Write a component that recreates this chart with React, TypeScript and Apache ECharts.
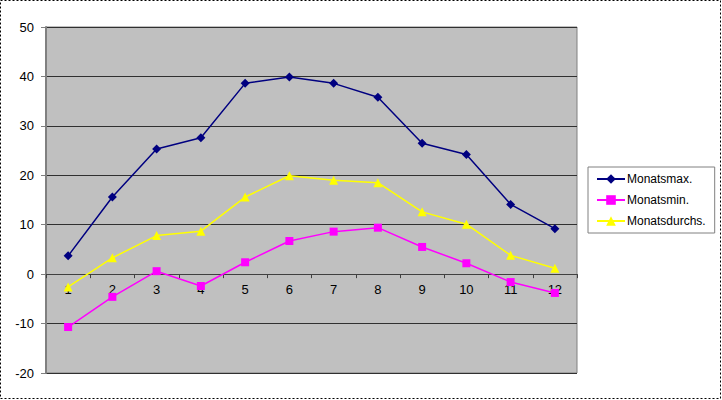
import React, { useEffect, useRef } from "react";
import * as echarts from "echarts";

const categories = ["1", "2", "3", "4", "5", "6", "7", "8", "9", "10", "11", "12"];
const monatsmax = [3.7, 15.6, 25.3, 27.6, 38.6, 39.9, 38.6, 35.8, 26.5, 24.2, 14.1, 9.2];
const monatsmin = [-10.7, -4.6, 0.6, -2.4, 2.4, 6.7, 8.6, 9.4, 5.5, 2.2, -1.6, -3.8];
const monatsdurchs = [-2.6, 3.3, 7.8, 8.7, 15.6, 19.9, 19.0, 18.5, 12.6, 10.1, 3.8, 1.2];
const yTicks = { min: -20, max: 50, interval: 10 };

export default function App() {
  const ref = useRef<HTMLDivElement>(null);
  useEffect(() => {
    if (!ref.current) return;
    const chart = echarts.init(ref.current, undefined, { renderer: "svg" });
    const font = "Arial, 'Liberation Sans', sans-serif";
    const gridTop = 27;
    const gridHeight = 346;
    const zeroOffset = -(gridHeight * (0 - yTicks.min)) / (yTicks.max - yTicks.min);
    chart.setOption({
      animation: false,
      backgroundColor: "#ffffff",
      textStyle: { fontFamily: font },
      graphic: [
        {
          type: "rect",
          shape: { x: 0.5, y: 0.5, width: 720, height: 398 },
          style: { fill: "none", stroke: "#000", lineWidth: 1, lineDash: [2, 2] },
          silent: true,
        },
      ],
      grid: {
        left: 46,
        top: gridTop,
        width: 531,
        height: gridHeight,
        show: true,
        backgroundColor: "#c0c0c0",
        borderColor: "#808080",
        borderWidth: 1,
        containLabel: false,
      },
      legend: {
        orient: "vertical",
        left: 588,
        top: 167,
        backgroundColor: "#ffffff",
        borderColor: "#808080",
        borderWidth: 1,
        padding: [6, 9, 6, 8],
        itemWidth: 28,
        itemHeight: 12,
        itemGap: 9,
        textStyle: { fontSize: 12, color: "#000", fontFamily: font, padding: [0, 0, 0, -3] },
        data: ["Monatsmax.", "Monatsmin.", "Monatsdurchs."],
      },
      xAxis: {
        type: "category",
        data: categories,
        boundaryGap: true,
        offset: zeroOffset,
        axisLine: { onZero: false, lineStyle: { color: "#404040", width: 1 } },
        axisTick: { show: true, length: 4, inside: false, lineStyle: { color: "#404040" } },
        axisLabel: { fontSize: 13, color: "#000", margin: 9, fontFamily: font },
        splitLine: { show: false },
      },
      yAxis: {
        type: "value",
        min: yTicks.min,
        max: yTicks.max,
        interval: yTicks.interval,
        axisLine: { show: true, lineStyle: { color: "#808080", width: 2 } },
        axisTick: { show: true, length: 5, inside: false, lineStyle: { color: "#808080" } },
        axisLabel: { fontSize: 13, color: "#000", margin: 12, fontFamily: font },
        splitLine: { show: true, lineStyle: { color: "#303030", width: 1 } },
      },
      series: [
        {
          name: "Monatsmax.",
          type: "line",
          data: monatsmax,
          color: "#000080",
          symbol: "diamond",
          symbolSize: 9,
          lineStyle: { width: 1.5, color: "#000080" },
          itemStyle: { color: "#000080" },
        },
        {
          name: "Monatsmin.",
          type: "line",
          data: monatsmin,
          color: "#ff00ff",
          symbol: "rect",
          symbolSize: 8,
          lineStyle: { width: 1.5, color: "#ff00ff" },
          itemStyle: { color: "#ff00ff" },
        },
        {
          name: "Monatsdurchs.",
          type: "line",
          data: monatsdurchs,
          color: "#ffff00",
          symbol: "triangle",
          symbolSize: 9,
          lineStyle: { width: 1.5, color: "#ffff00" },
          itemStyle: { color: "#ffff00" },
        },
      ],
    });
    return () => chart.dispose();
  }, []);
  return (
    <div
      ref={ref}
      style={{ position: "fixed", left: 0, top: 0, width: 722, height: 400 }}
    />
  );
}
